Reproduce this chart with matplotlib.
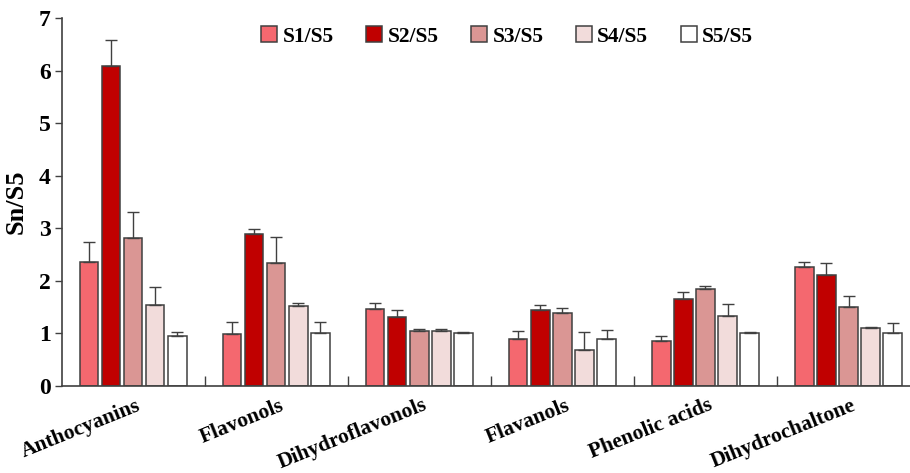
import numpy as np
import matplotlib
matplotlib.use('Agg')
import matplotlib.pyplot as plt

plt.rcParams['font.family'] = ['Liberation Serif', 'DejaVu Serif']
plt.rcParams['font.weight'] = 'bold'

categories = ['Anthocyanins', 'Flavonols', 'Dihydroflavonols', 'Flavanols',
              'Phenolic acids', 'Dihydrochaltone']
series = ['S1/S5', 'S2/S5', 'S3/S5', 'S4/S5', 'S5/S5']
colors = ['#F4686F', '#C00000', '#DA9694', '#F2DCDB', '#FFFFFF']

# mean values per series (rows) for each category (columns)
s1 = [2.36, 0.98, 1.46, 0.89, 0.86, 2.26]
s2 = [6.09, 2.90, 1.31, 1.45, 1.65, 2.12]
s3 = [2.82, 2.33, 1.05, 1.39, 1.85, 1.50]
s4 = [1.54, 1.53, 1.05, 0.68, 1.33, 1.10]
s5 = [0.96, 1.00, 1.00, 0.89, 1.00, 1.00]
# standard deviations
e1 = [0.37, 0.24, 0.11, 0.16, 0.10, 0.09]
e2 = [0.50, 0.09, 0.14, 0.09, 0.13, 0.21]
e3 = [0.48, 0.51, 0.03, 0.09, 0.05, 0.21]
e4 = [0.34, 0.04, 0.03, 0.35, 0.22, 0.03]
e5 = [0.07, 0.22, 0.03, 0.18, 0.03, 0.19]

vals = [s1, s2, s3, s4, s5]
errs = [e1, e2, e3, e4, e5]

fig = plt.figure(figsize=(9.1, 4.73), dpi=100)
ax = fig.add_axes([0.068, 0.184, 0.932, 0.778])

x = np.arange(len(categories)) + 0.5
pitch, width = 0.154, 0.127
for i, (v, e) in enumerate(zip(vals, errs)):
    ax.bar(x + (i - 2) * pitch, v, width, yerr=[np.zeros(len(e)), e],
           color=colors[i], edgecolor='#404040', linewidth=1.1, label=series[i],
           error_kw=dict(ecolor='#404040', elinewidth=1.0, capsize=4, capthick=1.0))

ax.set_xlim(0, 5.93)
ax.set_ylim(0, 7)
ax.set_yticks(range(8))
ax.tick_params(axis='y', direction='out', length=5, width=1, color='#404040',
               labelsize=17, pad=3)
ax.set_xticks(np.arange(1, 6))
ax.set_xticklabels([])
ax.tick_params(axis='x', direction='in', length=7, width=1, color='#404040')
for i, c in enumerate(categories):
    ax.text(x[i] + 0.02, -0.18, c, rotation=22, ha='right', va='top',
            rotation_mode='anchor', fontsize=15.5, fontweight='bold')
for side in ['top', 'right']:
    ax.spines[side].set_visible(False)
for side in ['left', 'bottom']:
    ax.spines[side].set_color('#404040')
    ax.spines[side].set_linewidth(1.2)
ax.set_ylabel('Sn/S5', fontsize=19, fontweight='bold', labelpad=8)

ax.legend(loc='upper center', bbox_to_anchor=(0.525, 1.03), ncol=5, frameon=False,
          handlelength=0.75, handleheight=0.75, handletextpad=0.25,
          columnspacing=1.5, prop={'weight': 'bold', 'size': 15.5})

fig.savefig('out.png', dpi=100)
